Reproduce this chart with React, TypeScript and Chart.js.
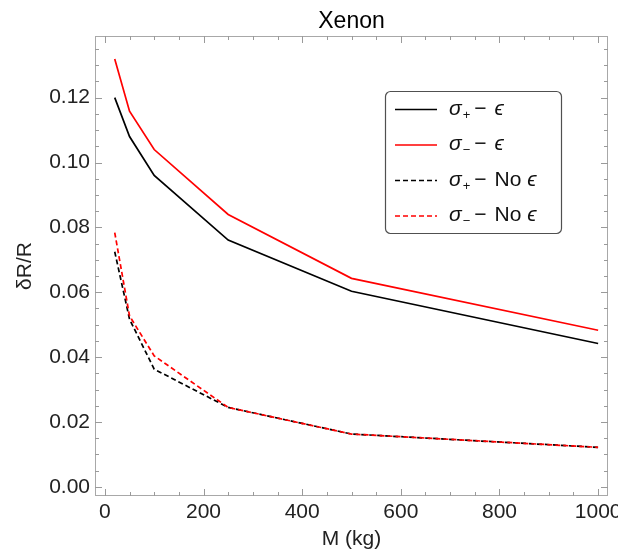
import React, { useEffect, useRef } from "react";
import { Chart, registerables } from "chart.js";

Chart.register(...registerables);

// ---- data ----
const massKg = [20, 50, 100, 250, 500, 1000];
const sigmaPlusEps = [0.12, 0.108, 0.096, 0.0761, 0.0603, 0.0442];
const sigmaMinusEps = [0.1319, 0.1158, 0.104, 0.084, 0.0643, 0.0483];
const sigmaPlusNoEps = [0.0725, 0.0517, 0.0363, 0.0245, 0.0163, 0.0122];
const sigmaMinusNoEps = [0.0784, 0.0527, 0.0404, 0.0245, 0.0163, 0.0122];

const seriesSign = ["+", "−", "+", "−"];
const seriesSuffix = ["ϵ", "ϵ", "No ϵ", "No ϵ"];
const seriesLabels = seriesSign.map(
  (s, i) => `σ${s === "+" ? "₊" : "₋"} − ${seriesSuffix[i]}`
);

const xTickValues = [0, 200, 400, 600, 800, 1000];
const yTickValues = [0, 0.02, 0.04, 0.06, 0.08, 0.1, 0.12];
const xMajorStep = 200;
const xMinorStep = 50;
const xTickMax = 1000;
const yMajorStep = 0.02;
const yMinorStep = 0.005;
const yTickMax = 0.135;

const FONT = '"Liberation Sans", Arial, "DejaVu Sans", sans-serif';

const framePlugin = {
  id: "frameTicks",
  beforeDatasetsDraw(chart: any) {
    const { ctx, chartArea: a, scales } = chart;
    const xs = scales.x;
    const ys = scales.y;
    ctx.save();
    ctx.strokeStyle = "#a8a8a8";
    ctx.lineWidth = 1;
    ctx.strokeRect(a.left + 0.5, a.top + 0.5, a.right - a.left - 1, a.bottom - a.top - 1);
    ctx.strokeStyle = "#9a9a9a";
    ctx.beginPath();
    const nx = Math.round(xTickMax / xMinorStep);
    for (let i = 0; i <= nx; i++) {
      const v = i * xMinorStep;
      const px = Math.round(xs.getPixelForValue(v)) + 0.5;
      const major = i % Math.round(xMajorStep / xMinorStep) === 0;
      const len = major ? 7 : 4;
      ctx.moveTo(px, a.bottom);
      ctx.lineTo(px, a.bottom - len);
      ctx.moveTo(px, a.top);
      ctx.lineTo(px, a.top + len);
    }
    const ny = Math.round(yTickMax / yMinorStep);
    for (let i = 0; i <= ny; i++) {
      const v = i * yMinorStep;
      const py = Math.round(ys.getPixelForValue(v)) + 0.5;
      const major = i % Math.round(yMajorStep / yMinorStep) === 0;
      const len = major ? 7 : 4;
      ctx.moveTo(a.left, py);
      ctx.lineTo(a.left + len, py);
      ctx.moveTo(a.right, py);
      ctx.lineTo(a.right - len, py);
    }
    ctx.stroke();
    ctx.restore();
  },
};

const legendPlugin = {
  id: "innerLegend",
  afterDatasetsDraw(chart: any) {
    const { ctx } = chart;
    const boxL = 385, boxT = 91, boxW = 176, boxH = 142;
    ctx.save();
    ctx.beginPath();
    (ctx as any).roundRect(boxL + 0.5, boxT + 0.5, boxW, boxH, 5);
    ctx.fillStyle = "#ffffff";
    ctx.fill();
    ctx.strokeStyle = "#505050";
    ctx.lineWidth = 1.2;
    ctx.stroke();

    const rowY0 = 109;
    const rowGap = 35.5;
    chart.data.datasets.forEach((ds: any, i: number) => {
      const y = rowY0 + i * rowGap;
      ctx.beginPath();
      ctx.setLineDash(ds.borderDash || []);
      ctx.strokeStyle = ds.borderColor;
      ctx.lineWidth = ds.borderWidth;
      ctx.moveTo(395, y + 0.5);
      ctx.lineTo(437, y + 0.5);
      ctx.stroke();
      ctx.setLineDash([]);

      ctx.fillStyle = "#111";
      ctx.textBaseline = "middle";
      ctx.textAlign = "left";
      let x = 449;
      ctx.font = `italic 21px ${FONT}`;
      ctx.fillText("σ", x, y);
      x += ctx.measureText("σ").width + 1;
      ctx.font = `13px ${FONT}`;
      ctx.fillText(seriesSign[i], x, y + 6);
      x += ctx.measureText(seriesSign[i]).width + 4;
      ctx.font = `21px ${FONT}`;
      ctx.fillText("−", x, y);
      x += ctx.measureText("−").width + 8;
      const parts = seriesSuffix[i].split(" ");
      if (parts.length > 1) {
        ctx.font = `21px ${FONT}`;
        ctx.fillText(parts[0], x, y);
        x += ctx.measureText(parts[0]).width + 6;
      }
      ctx.font = `italic 21px ${FONT}`;
      ctx.fillText(parts[parts.length - 1], x, y);
    });
    ctx.restore();
  },
};

export default function App() {
  const ref = useRef<HTMLCanvasElement | null>(null);

  useEffect(() => {
    if (!ref.current) return;
    const mk = (arr: number[]) => massKg.map((m, i) => ({ x: m, y: arr[i] }));
    const chart = new Chart(ref.current, {
      type: "line",
      data: {
        datasets: [
          {
            label: seriesLabels[0],
            data: mk(sigmaPlusEps),
            borderColor: "#000000",
            borderWidth: 1.7,
            pointRadius: 0,
            order: 4,
          },
          {
            label: seriesLabels[1],
            data: mk(sigmaMinusEps),
            borderColor: "#ff0000",
            borderWidth: 1.7,
            pointRadius: 0,
            order: 3,
          },
          {
            label: seriesLabels[2],
            data: mk(sigmaPlusNoEps),
            borderColor: "#000000",
            borderWidth: 1.7,
            borderDash: [5, 3],
            pointRadius: 0,
            order: 2,
          },
          {
            label: seriesLabels[3],
            data: mk(sigmaMinusNoEps),
            borderColor: "#ff0000",
            borderWidth: 1.7,
            borderDash: [5, 3],
            pointRadius: 0,
            order: 1,
          },
        ],
      },
      options: {
        responsive: false,
        animation: false,
        devicePixelRatio: 1,
        layout: { padding: { left: 0, right: 32, top: 0, bottom: 0 } },
        plugins: {
          legend: { display: false },
          tooltip: { enabled: false },
          title: {
            display: true,
            text: "Xenon",
            fullSize: false,
            color: "#000",
            font: { family: FONT, size: 23, weight: "normal", lineHeight: 1 },
            padding: { top: 10, bottom: 3 },
          },
        },
        scales: {
          x: {
            type: "linear",
            min: -20,
            max: 1020,
            grid: { display: false, drawTicks: false },
            border: { display: false },
            afterBuildTicks: (s: any) => {
              s.ticks = xTickValues.map((v) => ({ value: v }));
            },
            ticks: {
              autoSkip: false,
              maxRotation: 0,
              padding: 4,
              color: "#222",
              font: { family: FONT, size: 21 },
              callback: (v: any) => String(v),
            },
            title: {
              display: true,
              text: "M (kg)",
              color: "#222",
              font: { family: FONT, size: 21 },
              padding: { top: 0, bottom: 2 },
            },
            afterFit: (s: any) => {
              s.height = 58;
            },
          },
          y: {
            type: "linear",
            min: -0.0028,
            max: 0.139,
            grid: { display: false, drawTicks: false },
            border: { display: false },
            afterBuildTicks: (s: any) => {
              s.ticks = yTickValues.map((v) => ({ value: v }));
            },
            ticks: {
              autoSkip: false,
              padding: 5,
              color: "#222",
              font: { family: FONT, size: 21 },
              callback: (v: any) => Number(v).toFixed(2),
            },
            title: {
              display: true,
              text: "δR/R",
              color: "#222",
              font: { family: FONT, size: 21 },
              padding: { top: 13, bottom: 0 },
            },
            afterFit: (s: any) => {
              s.width = 95;
            },
          },
        },
      },
      plugins: [framePlugin, legendPlugin],
    } as any);
    return () => chart.destroy();
  }, []);

  return (
    <div
      style={{
        position: "fixed",
        left: 0,
        top: 0,
        width: 618,
        height: 554,
        overflow: "hidden",
        background: "#fff",
      }}
    >
      <canvas ref={ref} width={640} height={554} style={{ display: "block" }} />
    </div>
  );
}
